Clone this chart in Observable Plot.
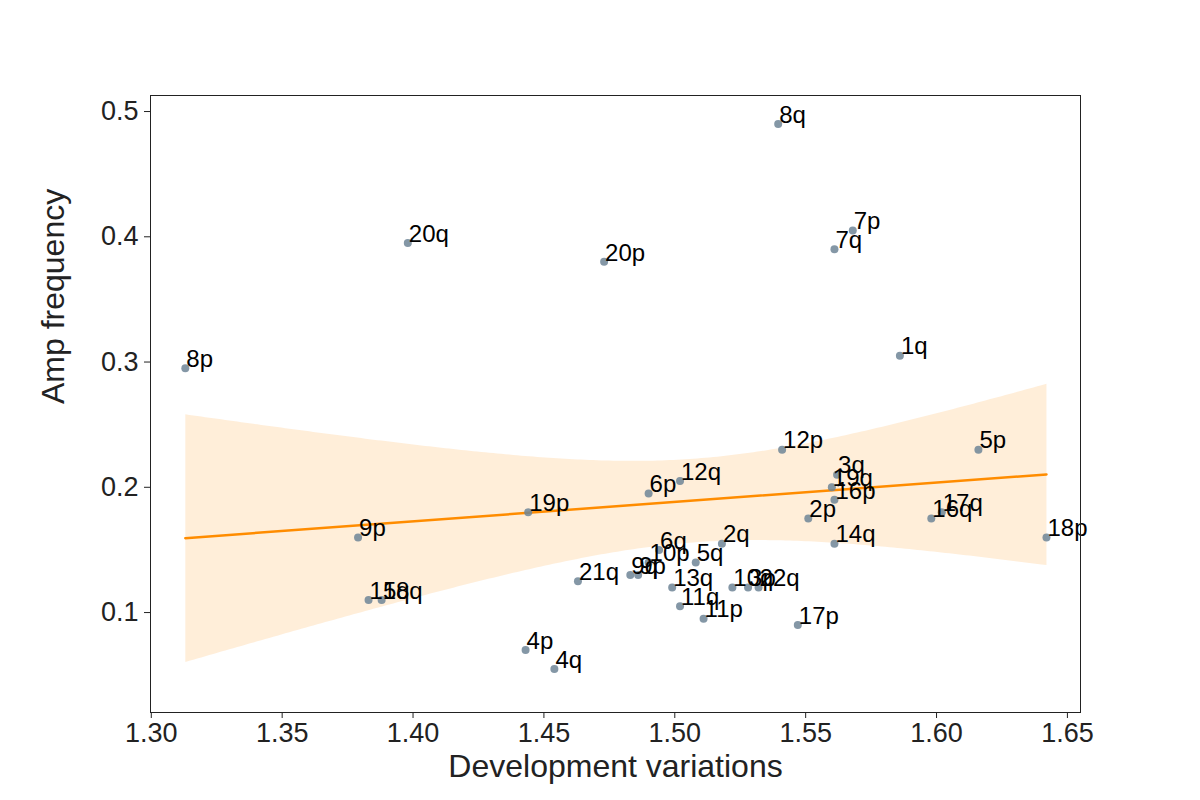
<!DOCTYPE html>
<html><head><meta charset="utf-8">
<script src="https://cdn.jsdelivr.net/npm/d3@7"></script>
<script src="https://cdn.jsdelivr.net/npm/@observablehq/plot@0.6"></script>
<style>body{margin:0;background:#fff;font-family:"Liberation Sans",Arial,sans-serif}</style>
</head><body><div id="chart"></div>
<script>
const arms = ["8q","20q","20p","7p","7q","1q","8p","12p","5p","3q","19q","16p","12q","6p","19p","9p","2p","16q","17q","14q","18p","6q","10p","21q","9q","9p","5q","2q","13q","11q","11p","10q","3p","22q","17p","15q","18q","4p","4q"];
const devVar = [1.5395,1.398,1.473,1.568,1.561,1.586,1.313,1.541,1.616,1.562,1.560,1.561,1.502,1.490,1.444,1.379,1.551,1.598,1.602,1.561,1.642,1.494,1.490,1.463,1.483,1.486,1.508,1.518,1.499,1.502,1.511,1.522,1.528,1.532,1.547,1.383,1.388,1.443,1.454];
const ampFreq = [0.49,0.395,0.38,0.405,0.39,0.305,0.295,0.23,0.23,0.21,0.20,0.19,0.205,0.195,0.18,0.16,0.175,0.175,0.18,0.155,0.16,0.15,0.14,0.125,0.13,0.13,0.14,0.155,0.12,0.105,0.095,0.12,0.12,0.12,0.09,0.11,0.11,0.07,0.055];
const xTicks = [1.30,1.35,1.40,1.45,1.50,1.55,1.60,1.65];
const yTicks = [0.1,0.2,0.3,0.4,0.5];
const data = arms.map((a, i) => ({arm: a, x: devVar[i], y: ampFreq[i]}));

const chart = Plot.plot({
  width: 1200, height: 800,
  marginLeft: 150, marginRight: 120, marginTop: 95, marginBottom: 88,
  style: {fontFamily: "Liberation Sans, Arial, sans-serif", color: "#222"},
  x: {domain: [1.2997, 1.655]},
  y: {domain: [0.0202, 0.5128]},
  marks: [
    Plot.axisX({ticks: xTicks, tickFormat: d3.format(".2f"), fontSize: 27, tickSize: 6, tickPadding: 4, label: null}),
    Plot.axisY({ticks: yTicks, tickFormat: d3.format(".1f"), fontSize: 27, tickSize: 6, tickPadding: 6, label: null}),
    Plot.text(["Development variations"], {frameAnchor: "bottom", dy: 64, fontSize: 32, fill: "#222"}),
    Plot.text(["Amp frequency"], {frameAnchor: "left", dx: -97, rotate: -90, fontSize: 32, fill: "#222"}),
    Plot.linearRegressionY(data, {x: "x", y: "y", stroke: "darkorange", strokeWidth: 2.5, fill: "darkorange", fillOpacity: 0.15, ci: 0.95}),
    Plot.dot(data, {x: "x", y: "y", r: 4, fill: "#6e8596", fillOpacity: 0.85}),
    Plot.text(data, {x: "x", y: "y", text: "arm", textAnchor: "start", dx: 1, dy: -9, fontSize: 24, fill: "black"}),
    Plot.frame({stroke: "#222"})
  ]
});
document.getElementById("chart").append(chart);
</script></body></html>
